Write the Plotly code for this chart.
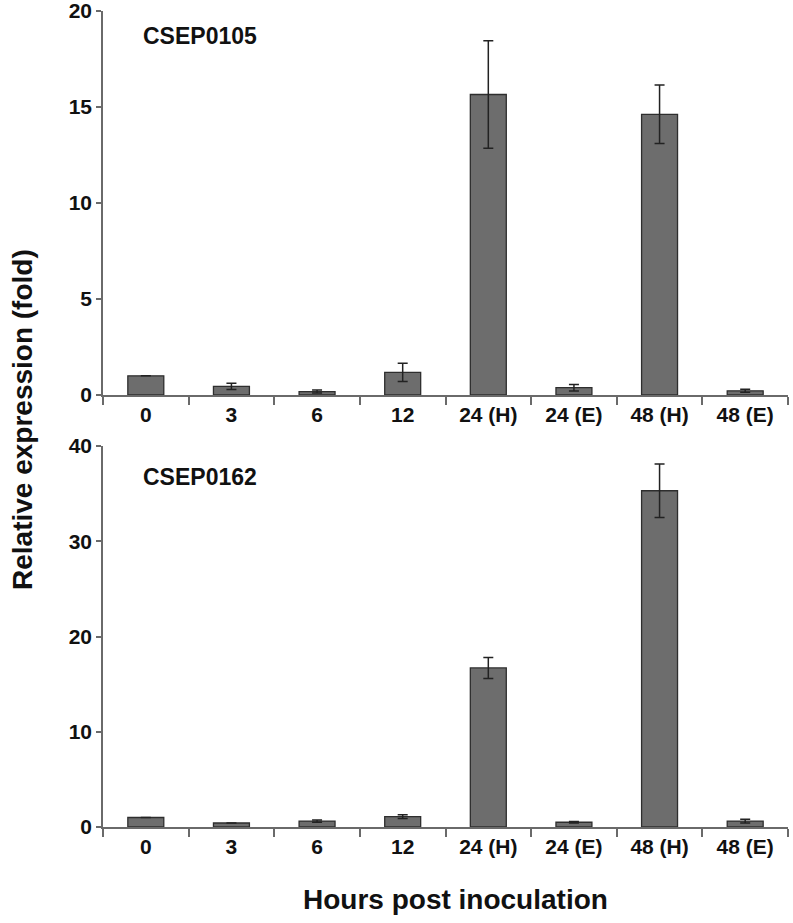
import plotly.graph_objects as go

categories = ["0", "3", "6", "12", "24 (H)", "24 (E)", "48 (H)", "48 (E)"]

csep0105_values = [1.0, 0.45, 0.18, 1.18, 15.65, 0.38, 14.62, 0.22]
csep0105_errors = [0.0, 0.16, 0.08, 0.48, 2.8, 0.17, 1.52, 0.08]

csep0162_values = [1.0, 0.42, 0.62, 1.08, 16.7, 0.5, 35.3, 0.62]
csep0162_errors = [0.0, 0.0, 0.12, 0.2, 1.1, 0.07, 2.8, 0.2]

panel_labels = ["CSEP0105", "CSEP0162"]

FONT = "Arial, Liberation Sans, sans-serif"
BAR_FILL = "#6d6d6d"
BAR_LINE = "#2e2e2e"
AXIS_COLOR = "#6a6a6a"

fig = go.Figure()

for vals, errs, xa, ya in [
    (csep0105_values, csep0105_errors, "x", "y"),
    (csep0162_values, csep0162_errors, "x2", "y2"),
]:
    fig.add_trace(go.Bar(
        x=categories, y=vals, xaxis=xa, yaxis=ya, width=0.42,
        marker=dict(color=BAR_FILL, line=dict(color=BAR_LINE, width=1.3)),
        error_y=dict(type="data", array=errs, visible=True,
                     color="#222222", thickness=1.5, width=5),
        showlegend=False, hoverinfo="skip",
    ))

W, H = 793, 923
ml, mr, mt, mb = 103, 5, 11, 96
ph = H - mt - mb
pw = W - ml - mr

top_y0, top_y1 = 11, 395
bot_y0, bot_y1 = 446, 827

def py_to_paper(py):
    return (H - mb - py) / ph

def px_to_paper(px):
    return (px - ml) / pw

top_dom = [py_to_paper(top_y1), py_to_paper(top_y0)]
bot_dom = [py_to_paper(bot_y1), py_to_paper(bot_y0)]

tick_font = dict(family=FONT, size=21, color="#111111", weight="bold")

xcommon = dict(
    type="category", range=[-0.5, 7.5], tickson="boundaries",
    ticks="outside", ticklen=8, tickwidth=1.5, tickcolor=AXIS_COLOR,
    showline=True, linecolor=AXIS_COLOR, linewidth=1.5,
    showgrid=False, zeroline=False, automargin=False, tickfont=tick_font,
    ticklabeloverflow="allow",
)
ycommon = dict(
    ticks="outside", ticklen=5, tickwidth=1.5, tickcolor=AXIS_COLOR,
    showline=True, linecolor=AXIS_COLOR, linewidth=1.5,
    showgrid=False, zeroline=False, automargin=False, tickfont=tick_font,
    ticklabeloverflow="allow",
)

def ann(text, px, py, size, angle=0):
    return dict(text=text, xref="paper", yref="paper",
                x=px_to_paper(px), y=py_to_paper(py),
                xanchor="center", yanchor="middle", showarrow=False,
                textangle=angle,
                font=dict(family=FONT, size=size, color="#111111", weight="bold"))

fig.update_layout(
    width=W, height=H,
    margin=dict(l=ml, r=mr, t=mt, b=mb, autoexpand=False),
    paper_bgcolor="white", plot_bgcolor="white",
    xaxis=dict(**xcommon, anchor="y"),
    yaxis=dict(**ycommon, domain=top_dom, range=[0, 20], dtick=5, anchor="x"),
    xaxis2=dict(**xcommon, anchor="y2"),
    yaxis2=dict(**ycommon, domain=bot_dom, range=[0, 40], dtick=10, anchor="x2"),
    annotations=[
        ann(panel_labels[0], 200, 36, 23),
        ann(panel_labels[1], 200, 477, 23),
        ann("Relative expression (fold)", 22, 420, 28, -90),
        ann("Hours post inoculation", 455, 900, 28),
    ],
)

fig.write_html("out.html",
               config={"displayModeBar": False},
               post_script="document.body.style.margin='0';")
